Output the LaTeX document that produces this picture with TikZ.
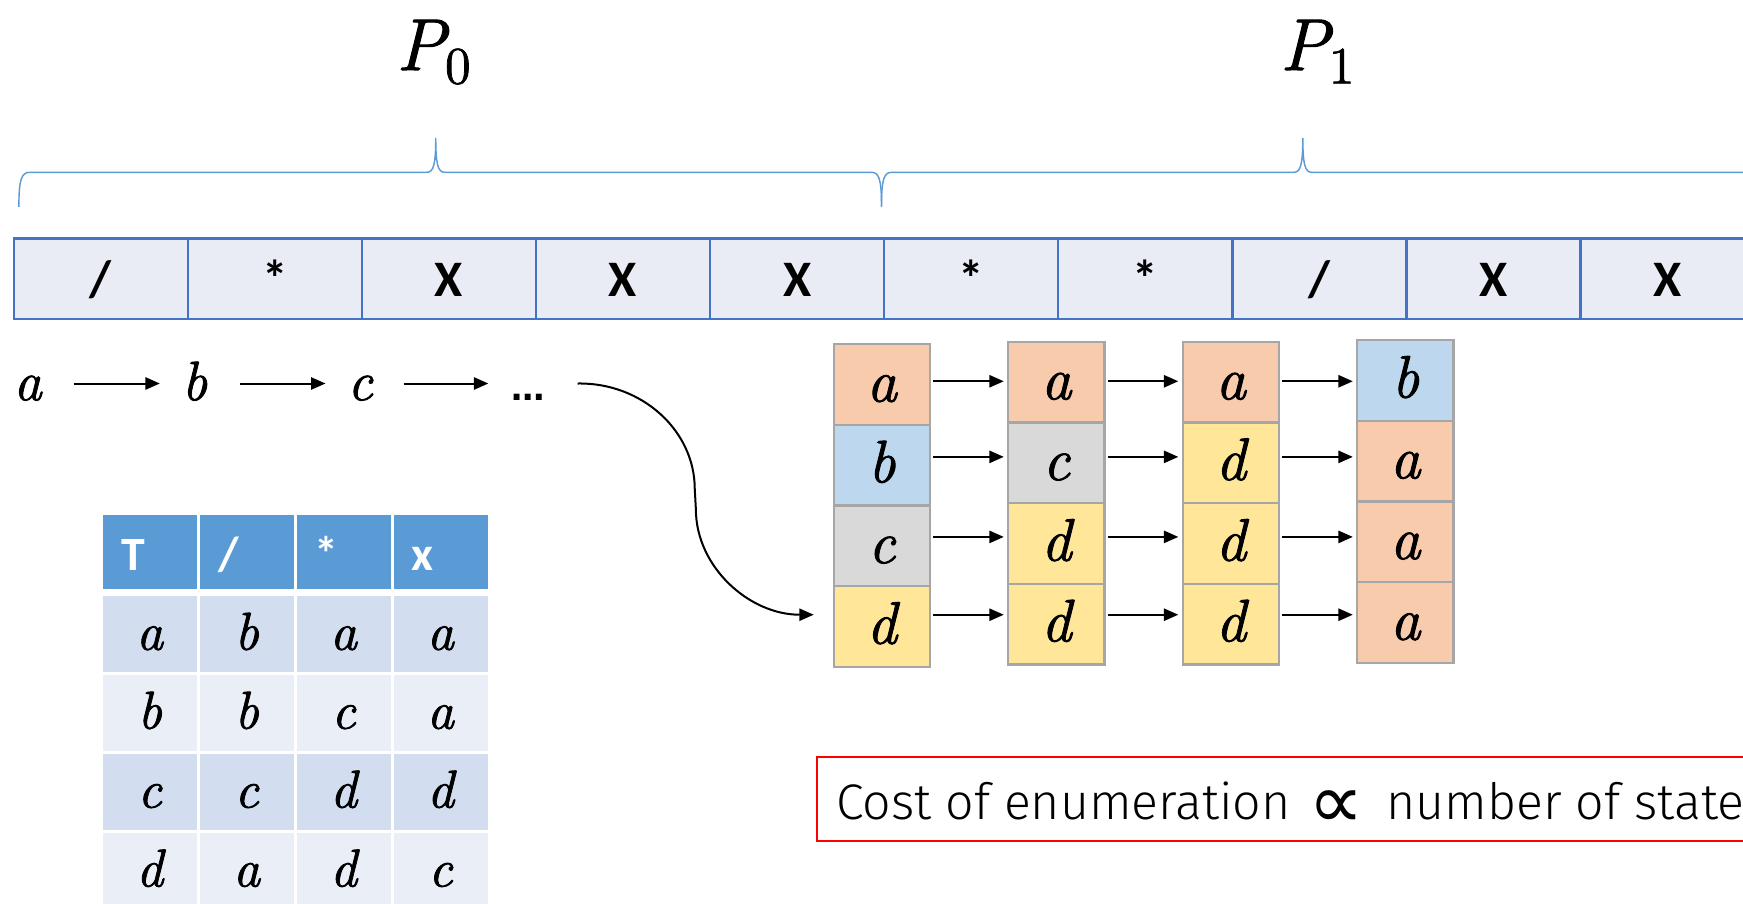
\RequirePackage{fix-cm}
\documentclass[tikz,border=0pt]{standalone}
\usepackage{fontspec}
\newfontfamily\calfont{Carlito}
\newfontfamily\costfont{Fira Sans Light}
\newfontfamily\symfont{DejaVu Sans}
\newfontfamily\varfont{lmroman12-italic.otf}[FakeBold=1.5]
\newfontfamily\uprfont{lmroman12-regular.otf}[FakeBold=1.5]
\usetikzlibrary{arrows.meta}
\definecolor{tapefill}{HTML}{E9EBF5}
\definecolor{tapeline}{HTML}{4472C4}
\definecolor{bracecol}{HTML}{5B9BD5}
\definecolor{hdr}{HTML}{5B9BD5}
\definecolor{bandA}{HTML}{D2DEEF}
\definecolor{bandB}{HTML}{EAEFF7}
\definecolor{sa}{HTML}{F8CBAD}
\definecolor{sb}{HTML}{BDD7EE}
\definecolor{sc}{HTML}{D9D9D9}
\definecolor{sd}{HTML}{FFE699}
\definecolor{boxline}{HTML}{A6A6A6}
\begin{document}
\begin{tikzpicture}[x=1pt,y=-1pt,
  tapecell/.style={draw=tapeline, line width=2.2pt, fill=tapefill, minimum width=156.6pt, minimum height=72.5pt, inner sep=0pt},
  tapetxt/.style={anchor=base, inner sep=0pt, font=\calfont\bfseries\fontsize{46}{50}\selectfont},
  brace/.style={draw=bracecol, line width=1.3pt},
  plabel/.style={anchor=base, inner sep=0pt, font=\varfont\fontsize{66}{70}\selectfont},
  chn/.style={inner sep=0pt, minimum width=62pt, text height=30pt, text depth=0pt, font=\varfont\fontsize{50}{54}\selectfont},
  arr/.style={line width=1.8pt, -{Triangle[length=13pt,width=11pt]}},
  barr/.style={arr, shorten <=2pt, shorten >=3pt},
  hcell/.style={fill=hdr, minimum width=84.5pt, minimum height=67pt, inner sep=0pt},
  htxt/.style={anchor=base west, inner sep=0pt, text=white, font=\calfont\bfseries\fontsize{43}{48}\selectfont},
  bcell/.style={minimum width=84.5pt, minimum height=68.5pt, inner sep=0pt, text height=28pt, text depth=0pt, font=\varfont\fontsize{48}{52}\selectfont},
  sbox/.style={draw=boxline, line width=2pt, minimum width=86.6pt, minimum height=72.6pt, inner sep=0pt, text height=31pt, text depth=0pt, font=\varfont\fontsize{54}{58}\selectfont},
  costtxt/.style={anchor=base west, inner sep=0pt, font=\costfont\fontsize{45}{50}\selectfont}
]
\clip (0,0) rectangle (1568,813);
\fill[white] (0,0) rectangle (1568,813);

% P labels
\node[plabel] (p0) at (390,63) {P\raisebox{-12pt}{\uprfont\fontsize{47}{50}\selectfont 0}};
\node[plabel] (p1) at (1185,63) {P\raisebox{-12pt}{\uprfont\fontsize{47}{50}\selectfont 1}};

% braces
\draw[brace] (17,186) .. controls (17,162) and (19,155) .. (27,155) -- (384,155)
  .. controls (390,155) and (392,148) .. (392,124)
  .. controls (392,148) and (394,155) .. (400,155) -- (784,155)
  .. controls (791,155) and (793,162) .. (793,186);
\draw[brace] (793,186) .. controls (793,162) and (795,155) .. (802,155) -- (1164,155)
  .. controls (1170,155) and (1172,148) .. (1172,124)
  .. controls (1172,148) and (1174,155) .. (1180,155) -- (1600,155);

% tape
\foreach \lab [count=\i, evaluate=\i as \cx using 90.7+156.6*(\i-1)] in {{/},{*},{X},{X},{X},{*},{*},{/},{X},{X}}{
  \node[tapecell] (t\i) at (\cx,250.75) {};
  \node[tapetxt] (tl\i) at (\cx,267) {\lab};
}

% chain
\node[chn] (ca) at (25,345) {a};
\node[chn] (cb) at (175,345) {b};
\node[chn] (cc) at (324,345) {c};
\node[chn, font=\symfont\bfseries\fontsize{30}{34}\selectfont] (cdots) at (475.5,345) {…};
\draw[arr, shorten <=10pt] (ca) -- (cb);
\draw[arr, shorten <=10pt] (cb) -- (cc);
\draw[arr, shorten <=8pt, shorten >=5pt] (cc) -- (cdots);

% table
\foreach \x [count=\j] in {134.7,221.9,309.1,396.3}{
  \node[hcell] (h\j) at (\x,496.5) {};
}
\coordinate (hb) at (0,513);
\node[htxt] (ht1) at ([xshift=16.5pt]h1.west |- hb) {T};
\node[htxt] (ht2) at ([xshift=16.5pt]h2.west |- hb) {/};
\node[htxt] (ht3) at ([xshift=16.5pt]h3.west |- hb) {*};
\node[htxt] (ht4) at ([xshift=16.5pt]h4.west |- hb) {x};

\foreach \r/\y/\band/\la/\lb/\lc/\ld in {1/570.5/bandA/a/b/a/a, 2/641.5/bandB/b/b/c/a, 3/712.5/bandA/c/c/d/d, 4/783.5/bandB/d/a/d/c}{
  \node[bcell, fill=\band] (r\r c1) at (134.7,\y) {\la};
  \node[bcell, fill=\band] (r\r c2) at (221.9,\y) {\lb};
  \node[bcell, fill=\band] (r\r c3) at (309.1,\y) {\lc};
  \node[bcell, fill=\band] (r\r c4) at (396.3,\y) {\ld};
}

% state boxes
\node[sbox, fill=sa] (b11) at (793.3,345.8) {a};
\node[sbox, fill=sb] (b12) at (793.3,418.4) {b};
\node[sbox, fill=sc] (b13) at (793.3,491.0) {c};
\node[sbox, fill=sd] (b14) at (793.3,563.6) {d};

\node[sbox, fill=sa] (b21) at (950.3,343.7) {a};
\node[sbox, fill=sc] (b22) at (950.3,416.3) {c};
\node[sbox, fill=sd] (b23) at (950.3,488.9) {d};
\node[sbox, fill=sd] (b24) at (950.3,561.5) {d};

\node[sbox, fill=sa] (b31) at (1107.3,343.7) {a};
\node[sbox, fill=sd] (b32) at (1107.3,416.3) {d};
\node[sbox, fill=sd] (b33) at (1107.3,488.9) {d};
\node[sbox, fill=sd] (b34) at (1107.3,561.5) {d};

\node[sbox, fill=sb] (b41) at (1264.3,342.2) {b};
\node[sbox, fill=sa] (b42) at (1264.3,414.8) {a};
\node[sbox, fill=sa] (b43) at (1264.3,487.4) {a};
\node[sbox, fill=sa] (b44) at (1264.3,560.0) {a};

\coordinate (y1) at (0,343);
\coordinate (y2) at (0,411);
\coordinate (y3) at (0,483);
\coordinate (y4) at (0,553);
\foreach \r in {1,...,4}{
  \draw[barr] (b1\r.east |- y\r) -- (b2\r.west |- y\r);
  \draw[barr] (b2\r.east |- y\r) -- (b3\r.west |- y\r);
  \draw[barr] (b3\r.east |- y\r) -- (b4\r.west |- y\r);
}

% curved connector
\draw[arr] ([xshift=13pt]cdots.east) .. controls (577,344) and (625,387) .. (625,440)
  -- (626,458) .. controls (626,510) and (674,553) .. ([xshift=-17pt,yshift=10.6pt]b14.west);

% cost box
\node[draw=red, line width=1.6pt, minimum width=900pt, minimum height=76pt, anchor=north west, inner sep=0pt] (cost) at (734,680) {};
\node[costtxt] (ct1) at (752,737) {Cost of enumeration};
\node[anchor=base, inner sep=0pt, font=\symfont\fontsize{70}{74}\selectfont] (prop) at (1202,745) {∝};
\node[costtxt] (ct2) at (1247,737) {number of states};
\end{tikzpicture}
\end{document}
